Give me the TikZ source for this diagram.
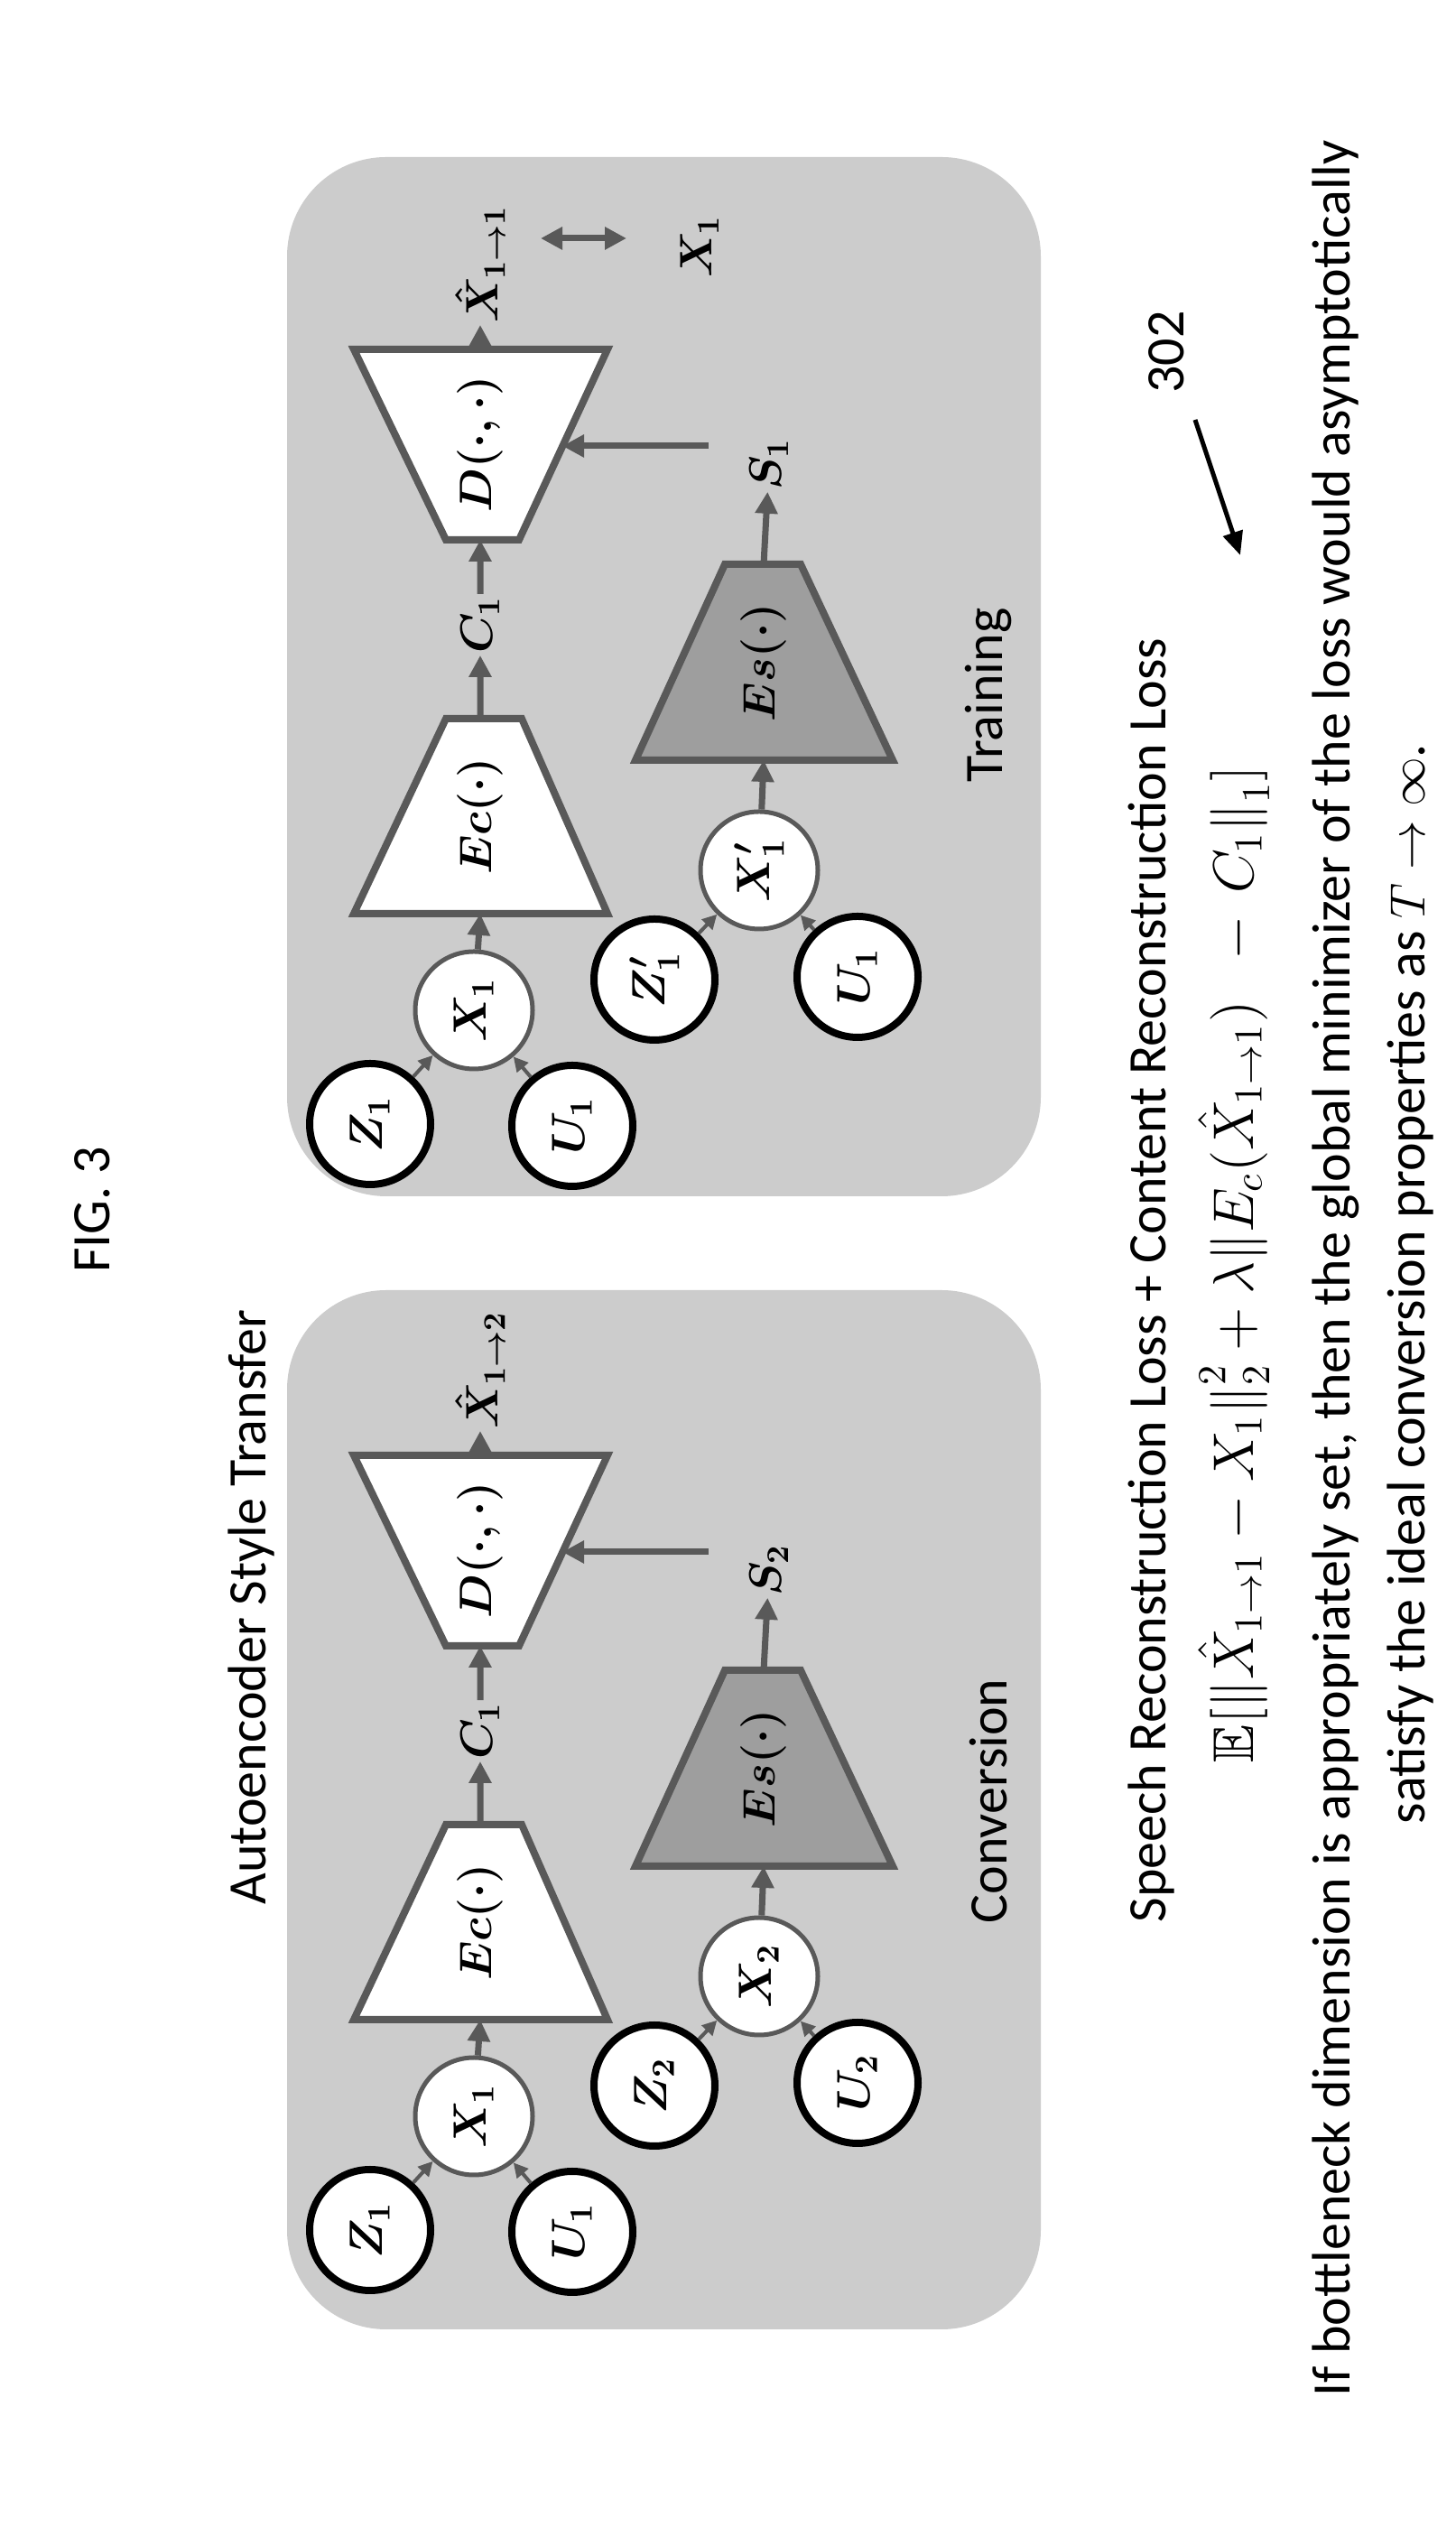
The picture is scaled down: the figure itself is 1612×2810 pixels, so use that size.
\documentclass[tikz,border=0pt]{standalone}
\usepackage{amssymb}
\usepackage{graphicx}
\usepackage{fontspec}
\setsansfont{Carlito}
\usetikzlibrary{arrows.meta}
\definecolor{bg}{gray}{0.80}
\definecolor{esg}{gray}{0.62}
\definecolor{edg}{gray}{0.35}
\tikzset{
  circ/.style={circle,draw=black,line width=8pt,fill=white,minimum size=134pt,inner sep=0pt},
  circg/.style={circle,draw=edg,line width=5pt,fill=white,minimum size=130pt,inner sep=0pt},
  mlbl/.style={font=\Large\boldmath,scale=3.6,inner sep=0pt},
  trap/.style={draw=edg,line width=8pt,fill=white,line join=miter},
  trapg/.style={draw=edg,line width=8pt,fill=esg,line join=miter},
  garr/.style={-{Triangle[length=24pt,width=24pt]},draw=edg,line width=7pt},
  sarr/.style={-{Triangle[length=16pt,width=16pt]},draw=edg,line width=4pt},
  lbl/.style={font=\Large\boldmath,scale=3.5,inner sep=0.5pt},
  txt/.style={font=\sffamily\fontsize{60}{70}\selectfont,inner sep=0pt},
  panel/.style={fill=bg,rounded corners=110pt},
}
\begin{document}
\begin{tikzpicture}[x=1pt,y=1pt]
\useasboundingbox (0,0) rectangle (1612,2810);
\fill[white] (0,0) rectangle (1612,2810);
\begin{scope}[shift={(1612,0)},rotate=90,transform shape]
\node[txt] (fig) at (1470,1510) {FIG. 3};
\node[txt] (title) at (1030,1334) {Autoencoder Style Transfer};
% panels
\fill[panel] (230,459) rectangle (1381,1294);
\fill[panel] (1485,459) rectangle (2636,1294);
\foreach \s/\sfx/\xh/\sn/\zn/\un/\xn/\pn in {0/T/{1\to1}/1/{Z'_1}/{U_1}/{X'_1}/Training, -1225/C/{1\to2}/2/{Z_2}/{U_2}/{X_2}/Conversion}{
 \begin{scope}[xshift=\s]
  \path[trap] (1798,939) -- (2014,1034) -- (2014,1118) -- (1798,1220) -- cycle;
  \path[trap] (2423,939) -- (2212,1037) -- (2212,1118) -- (2423,1220) -- cycle;
  \path[trapg] (1968,623) -- (2185,725) -- (2185,809) -- (1968,908) -- cycle;
  \coordinate (ecin\sfx) at (1798,1080);
  \coordinate (ecout\sfx) at (2014,1080);
  \coordinate (din\sfx) at (2212,1080);
  \coordinate (dout\sfx) at (2423,1080);
  \coordinate (dside\sfx) at (2316,989);
  \coordinate (sl\sfx) at (2316,827);
  \coordinate (esin\sfx) at (1968,766);
  \coordinate (esout\sfx) at (2185,766);
  \node[lbl] (ec\sfx) at (1906,1080) {$Ec(\cdot)$};
  \node[lbl] (d\sfx) at (2318,1080) {$D(\cdot,\cdot)$};
  \node[lbl] (es\sfx) at (2076,766) {$Es(\cdot)$};
  \node[circg] (xa\sfx) at (1691,1087) {};
  \node[circ] (za\sfx) at (1565,1202) {};
  \node[circ] (ua\sfx) at (1563,978) {};
  \node[circg] (xb\sfx) at (1846,771) {};
  \node[circ] (zb\sfx) at (1725,887) {};
  \node[circ] (ub\sfx) at (1728,662) {};
  \node[mlbl] (xat\sfx) at (xa\sfx) {$X_1$};
  \node[mlbl] (zat\sfx) at (za\sfx) {$Z_1$};
  \node[mlbl] (uat\sfx) at (ua\sfx) {$U_1$};
  \node[mlbl] (xbt\sfx) at (xb\sfx) {$\xn$};
  \node[mlbl] (zbt\sfx) at (zb\sfx) {$\zn$};
  \node[mlbl] (ubt\sfx) at (ub\sfx) {$\un$};
  \node[lbl] (c\sfx) at (2118,1080) {$C_1$};
  \node[lbl,anchor=west] (xh\sfx) at (2450,1080) {$\hat X_{\xh}$};
  \node[lbl] (s\sfx) at (2296,760) {$S_{\sn}$};
  \node[txt] (pn\sfx) at (2040,517) {\pn};
  \draw[sarr] (za\sfx) -- (xa\sfx);
  \draw[sarr] (ua\sfx) -- (xa\sfx);
  \draw[sarr] (zb\sfx) -- (xb\sfx);
  \draw[sarr] (ub\sfx) -- (xb\sfx);
  \draw[garr] (xa\sfx) -- (ecin\sfx);
  \draw[garr] (xb\sfx) -- (esin\sfx);
  \draw[garr] (ecout\sfx) -- (c\sfx);
  \draw[garr] (c\sfx) -- (din\sfx);
  \draw[garr] (dout\sfx) -- (xh\sfx);
  \draw[garr] (esout\sfx) -- (s\sfx);
  \draw[garr] (sl\sfx) -- (dside\sfx);
 \end{scope}
}
\node[lbl] (x1t) at (2537,837) {$X_1$};
\coordinate (dbt) at (2546,1013);
\coordinate (dbb) at (2546,918);
\draw[{Triangle[length=24pt,width=24pt]}-{Triangle[length=24pt,width=24pt]},draw=edg,line width=7pt] (dbb) -- (dbt);
% bottom text
\node[txt] (loss) at (1392,337) {Speech Reconstruction Loss + Content Reconstruction Loss};
\node[font=\Large,scale=4.4] (form) at (1410,245) {$\mathbb{E}\Big[\big\|\hat X_{1\to1}-X_1\big\|_2^2+\lambda\big\|E_c\big(\hat X_{1\to1}\big)\ \,-\,C_1\big\|_1\Big]$};
\node[txt] (n302) at (2420,320) {302};
\coordinate (a302t) at (2345,288);
\coordinate (a302h) at (2195,238);
\draw[-{Triangle[length=26pt,width=22pt]},line width=5pt] (a302t) -- (a302h);
\node[txt] (l1) at (1405,132) {If bottleneck dimension is appropriately set, then the global minimizer of the loss would asymptotically};
\node[txt] (l2) at (1388,50) {satisfy the ideal conversion properties as \scalebox{2.2}{$T\rightarrow\infty$}.};
\end{scope}
\end{tikzpicture}
\end{document}
